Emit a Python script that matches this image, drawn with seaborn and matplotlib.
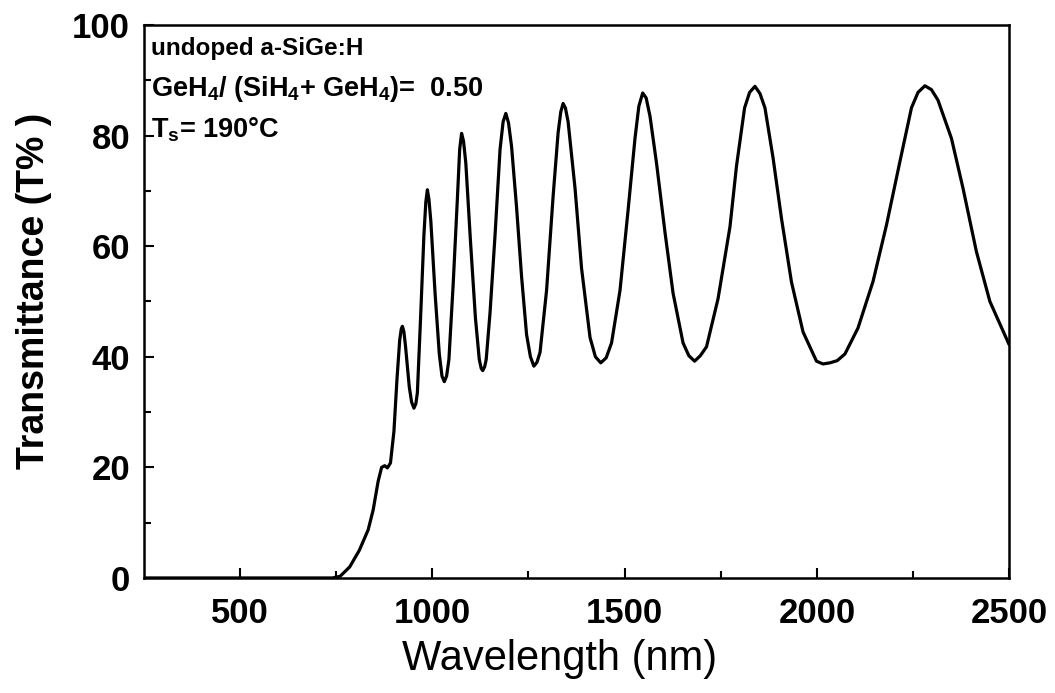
import matplotlib
matplotlib.use("Agg")
import matplotlib.pyplot as plt
from matplotlib.ticker import FixedLocator
import pandas as pd
import seaborn as sns

# Optical transmittance spectrum of the undoped a-SiGe:H film
wavelength_nm = [
    250, 400, 550, 700, 740, 760, 785, 810, 833, 846, 859, 868, 876, 883, 891,
    900, 908, 915, 919, 922, 926, 930, 940, 946, 952, 957, 961, 969, 978, 983,
    987, 991, 996, 1007, 1018, 1025, 1031, 1037, 1043, 1054, 1065, 1071, 1076,
    1081, 1087, 1099, 1112, 1122, 1127, 1131, 1136, 1140, 1150, 1163, 1176,
    1184, 1191, 1198, 1206, 1219, 1232, 1245, 1255, 1264, 1272, 1280, 1297,
    1314, 1327, 1334, 1340, 1346, 1353, 1371, 1388, 1410, 1424, 1438, 1452,
    1466, 1488, 1509, 1527, 1537, 1547, 1556, 1566, 1583, 1605, 1626, 1652,
    1667, 1682, 1697, 1713, 1743, 1774, 1791, 1812, 1825, 1839, 1852, 1865,
    1886, 1908, 1934, 1964, 1999, 2016, 2034, 2053, 2073, 2107, 2146, 2181,
    2216, 2246, 2263, 2281, 2298, 2315, 2350, 2380, 2415, 2450, 2500,
]
transmittance = [
    0.0, 0.0, 0.0, 0.0, 0.0, 0.3, 2.0, 5.0, 8.7, 12.3, 17.5, 20.0, 20.3, 19.9,
    20.8, 26.5, 36.0, 43.0, 45.0, 45.5, 44.5, 42.0, 34.5, 31.8, 30.7, 31.5,
    33.5, 46.5, 62.0, 68.0, 70.2, 68.5, 64.5, 51.5, 40.5, 36.5, 35.5, 36.5,
    39.5, 53.0, 68.5, 77.5, 80.4, 79.0, 75.0, 61.0, 47.0, 39.5, 37.9, 37.5,
    38.2, 39.5, 48.0, 62.0, 77.5, 82.5, 84.0, 82.3, 78.0, 67.0, 54.5, 44.0,
    40.0, 38.3, 39.0, 40.8, 52.0, 69.0, 80.5, 84.3, 85.8, 85.0, 82.5, 70.5,
    56.0, 43.5, 40.0, 38.9, 39.8, 42.5, 52.0, 66.5, 79.5, 85.3, 87.7, 86.8,
    83.5, 75.0, 62.5, 51.5, 42.5, 40.2, 39.2, 40.2, 41.8, 50.5, 63.5, 74.5,
    85.0, 87.8, 88.9, 87.6, 85.0, 76.0, 65.0, 53.5, 44.5, 39.2, 38.7, 38.9,
    39.3, 40.5, 45.2, 53.6, 63.8, 75.3, 85.0, 87.8, 89.0, 88.3, 86.4, 79.5,
    70.5, 59.0, 50.0, 42.2,
]

x_major = [500, 1000, 1500, 2000, 2500]
x_minor = [750, 1250, 1750, 2250]
y_major = [0, 20, 40, 60, 80, 100]
y_minor = [10, 30, 50, 70, 90]

sample_lines = [
    "undoped a-SiGe:H",
    r"GeH$_{\mathbf{4}}$/ (SiH$_{\mathbf{4}}$+ GeH$_{\mathbf{4}}$)=  0.50",
    r"T$_{\mathbf{s}}$= 190°C",
]
sample_sizes = [17.5, 19.5, 19.5]

sns.set_style("ticks")
plt.rcParams["font.family"] = ["Liberation Sans", "DejaVu Sans"]
plt.rcParams["mathtext.fontset"] = "custom"
plt.rcParams["mathtext.rm"] = "Liberation Sans"
plt.rcParams["mathtext.bf"] = "Liberation Sans:bold"
for key in ["text.color", "axes.labelcolor", "xtick.color", "ytick.color",
            "axes.edgecolor"]:
    plt.rcParams[key] = "black"

df = pd.DataFrame({"Wavelength": wavelength_nm, "T": transmittance})

fig = plt.figure(figsize=(10.55, 6.93), dpi=100)
ax = fig.add_axes([0.1365, 0.166, 0.82, 0.798])

sns.lineplot(data=df, x="Wavelength", y="T", color="black", linewidth=2.3,
             estimator=None, ax=ax)

ax.set_xlim(250, 2500)
ax.set_ylim(0, 100)
ax.xaxis.set_major_locator(FixedLocator(x_major))
ax.xaxis.set_minor_locator(FixedLocator(x_minor))
ax.yaxis.set_major_locator(FixedLocator(y_major))
ax.yaxis.set_minor_locator(FixedLocator(y_minor))

for side in ["left", "right", "top", "bottom"]:
    ax.spines[side].set_linewidth(1.8)
    ax.spines[side].set_color("black")

ax.tick_params(which="major", direction="in", length=7, width=1.5,
               top=False, right=False)
ax.tick_params(which="minor", direction="in", length=5, width=1.5,
               top=False, right=False)
ax.tick_params(axis="x", which="major", pad=14)
ax.tick_params(axis="y", which="major", pad=10)

ax.set_xticklabels([str(v) for v in x_major], fontsize=25, fontweight="bold")
ax.set_yticklabels([str(v) for v in y_major], fontsize=25, fontweight="bold")

ax.set_xlabel("Wavelength (nm)", fontsize=30)
ax.xaxis.set_label_coords(0.48, -0.11)
ax.set_ylabel("Transmittance (T% )", fontsize=27, fontweight="bold")
ax.yaxis.set_label_coords(-0.106, 0.519)

for text, yfrac, size in zip(sample_lines, [0.946, 0.872, 0.796], sample_sizes):
    ax.text(0.008, yfrac, text, transform=ax.transAxes, fontsize=size,
            fontweight="bold", va="baseline", ha="left")

fig.savefig("out.png", dpi=100)
